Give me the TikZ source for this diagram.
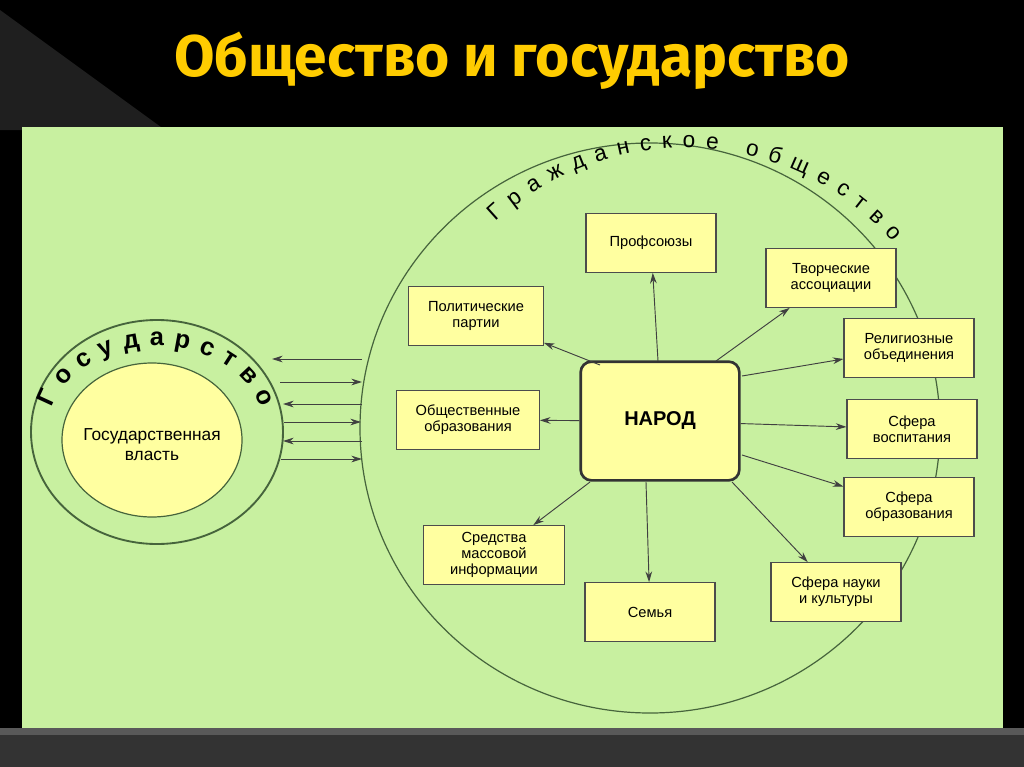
\documentclass[tikz,border=0pt]{standalone}
\usepackage{fontspec}
\setmainfont{Liberation Sans}
\newfontfamily\titlefont{Fira Sans}
\usetikzlibrary{decorations.text,arrows.meta}
\definecolor{panel}{RGB}{200,240,160}
\definecolor{boxf}{RGB}{255,255,160}
\definecolor{edge}{RGB}{70,100,60}
\definecolor{ttl}{RGB}{255,204,0}
\begin{document}
\begin{tikzpicture}[x=0.75pt,y=-0.75pt,
 bx/.style={draw=black!70,fill=boxf,line width=0.8pt,minimum width=97.5pt,minimum height=44pt,align=center,font=\fontsize{11}{12}\selectfont,inner sep=1pt},
 ar/.style={-{Stealth[length=8pt,width=5pt]},black!75,line width=0.7pt}]
\useasboundingbox (0,0) rectangle (1024,767);
\fill[black] (0,0) rectangle (1024,767);
\fill[black!88] (0,10) -- (165,130) -- (0,130) -- cycle;
\fill[black!65] (0,728) rectangle (1024,767);
\fill[black!80] (0,735) -- (1024,735) -- (1024,767) -- (0,767) -- cycle;
\fill[panel] (22,127) rectangle (1003,728);
\node[font=\titlefont\bfseries\fontsize{44}{50}\selectfont,text=ttl] (title) at (512,61) {Общество и государство};
% ellipses
\draw[edge,line width=0.9pt] (650,428) ellipse [x radius=290, y radius=285];
\draw[edge,line width=1.4pt] (157,432) ellipse [x radius=126, y radius=112];
\draw[edge,line width=0.9pt,fill=boxf] (152,440) ellipse [x radius=90, y radius=77];
\node[font=\fontsize{13}{15}\selectfont,align=center] (vlast) at (152,445) {Государственная\\власть};
% curved texts
\path[decorate,decoration={text along path,text align=fit to path,
 text={|\fontsize{19}{19}\bfseries\selectfont|Государство}}]
 (52,408) arc[start angle=195,end angle=345,x radius=108,y radius=84];
\path[decorate,decoration={text along path,text align=fit to path,
 text={|\fontsize{17}{17}\selectfont|Гражданское общество}}]
 (496,222) arc[start angle=226,end angle=320,x radius=272,y radius=264];
% state arrows
\coordinate (l1) at (272,359); \coordinate (r1) at (362,359);
\coordinate (l2) at (280,382); \coordinate (r2) at (362,382);
\coordinate (l3) at (283,404); \coordinate (r3) at (362,404);
\coordinate (l4) at (284,422); \coordinate (r4) at (361,422);
\coordinate (l5) at (283,441); \coordinate (r5) at (362,441);
\coordinate (l6) at (281,459); \coordinate (r6) at (362,459);
\draw[ar] (r1) -- (l1); \draw[ar] (l2) -- (r2); \draw[ar] (r3) -- (l3);
\draw[ar] (l4) -- (r4); \draw[ar] (r5) -- (l5); \draw[ar] (l6) -- (r6);
% nodes
\node[draw=black!80,fill=boxf,line width=2pt,rounded corners=8pt,minimum width=119pt,minimum height=89pt,font=\bfseries\fontsize{15}{17}\selectfont] (narod) at (660,421) {НАРОД};
\node[bx] (a) at (651,243) {Профсоюзы};
\node[bx] (b) at (831,278) {Творческие\\ассоциации};
\node[bx,minimum width=101pt] (c) at (476,316) {Политические\\партии};
\node[bx] (d) at (909,348) {Религиозные\\объединения};
\node[bx,minimum width=107pt] (e) at (468,420) {Общественные\\образования};
\node[bx] (f) at (912,429) {Сфера\\воспитания};
\node[bx] (g) at (909,507) {Сфера\\образования};
\node[bx,minimum width=106pt] (h) at (494,555) {Средства\\массовой\\информации};
\node[bx] (i) at (650,612) {Семья};
\node[bx] (j) at (836,592) {Сфера науки\\и культуры};
\draw[ar] (658,361) -- (a);
\draw[ar] (716,361) -- (b);
\draw[ar] (600,365) -- (c);
\draw[ar] (742,376) -- (d);
\draw[ar] (narod) -- (e);
\draw[ar] (narod) -- (f);
\draw[ar] (742,455) -- (g);
\draw[ar] (590,482) -- (h);
\draw[ar] (646,482) -- (i);
\draw[ar] (732,482) -- (j);
\end{tikzpicture}
\end{document}
